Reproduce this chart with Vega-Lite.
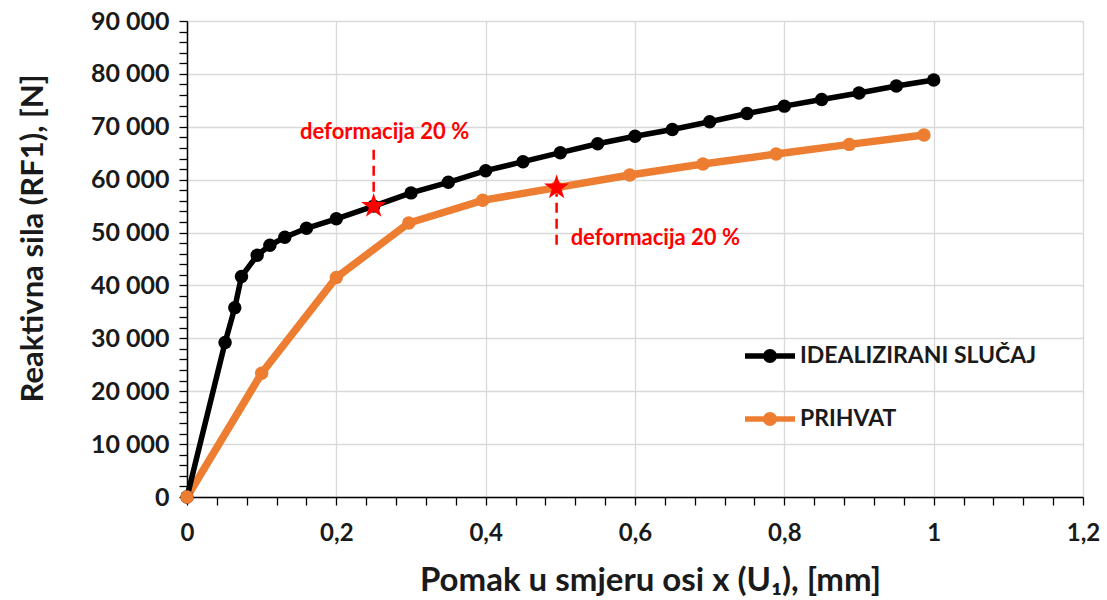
{
  "$schema": "https://vega.github.io/schema/vega-lite/v6.json",
  "width": 896,
  "height": 476,
  "autosize": {"type": "none"},
  "padding": {"left": 187, "top": 21, "right": 24, "bottom": 103},
  "background": "white",
  "config": {"view": {"stroke": null}},
  "datasets": {
    "curves": [
      {"s": "IDEALIZIRANI SLUČAJ", "x": 0, "y": 0},
      {"s": "IDEALIZIRANI SLUČAJ", "x": 0.051, "y": 29200},
      {"s": "IDEALIZIRANI SLUČAJ", "x": 0.064, "y": 35800},
      {"s": "IDEALIZIRANI SLUČAJ", "x": 0.073, "y": 41700},
      {"s": "IDEALIZIRANI SLUČAJ", "x": 0.094, "y": 45700},
      {"s": "IDEALIZIRANI SLUČAJ", "x": 0.111, "y": 47600},
      {"s": "IDEALIZIRANI SLUČAJ", "x": 0.131, "y": 49100},
      {"s": "IDEALIZIRANI SLUČAJ", "x": 0.16, "y": 50800},
      {"s": "IDEALIZIRANI SLUČAJ", "x": 0.2, "y": 52600},
      {"s": "IDEALIZIRANI SLUČAJ", "x": 0.25, "y": 55000},
      {"s": "IDEALIZIRANI SLUČAJ", "x": 0.3, "y": 57500},
      {"s": "IDEALIZIRANI SLUČAJ", "x": 0.35, "y": 59500},
      {"s": "IDEALIZIRANI SLUČAJ", "x": 0.4, "y": 61700},
      {"s": "IDEALIZIRANI SLUČAJ", "x": 0.45, "y": 63400},
      {"s": "IDEALIZIRANI SLUČAJ", "x": 0.5, "y": 65100},
      {"s": "IDEALIZIRANI SLUČAJ", "x": 0.55, "y": 66800},
      {"s": "IDEALIZIRANI SLUČAJ", "x": 0.6, "y": 68200},
      {"s": "IDEALIZIRANI SLUČAJ", "x": 0.65, "y": 69500},
      {"s": "IDEALIZIRANI SLUČAJ", "x": 0.7, "y": 70950},
      {"s": "IDEALIZIRANI SLUČAJ", "x": 0.75, "y": 72500},
      {"s": "IDEALIZIRANI SLUČAJ", "x": 0.8, "y": 73900},
      {"s": "IDEALIZIRANI SLUČAJ", "x": 0.85, "y": 75150},
      {"s": "IDEALIZIRANI SLUČAJ", "x": 0.9, "y": 76400},
      {"s": "IDEALIZIRANI SLUČAJ", "x": 0.95, "y": 77700},
      {"s": "IDEALIZIRANI SLUČAJ", "x": 1.0, "y": 78850},
      {"s": "PRIHVAT", "x": 0, "y": 0},
      {"s": "PRIHVAT", "x": 0.1, "y": 23400},
      {"s": "PRIHVAT", "x": 0.2, "y": 41500},
      {"s": "PRIHVAT", "x": 0.297, "y": 51800},
      {"s": "PRIHVAT", "x": 0.396, "y": 56100},
      {"s": "PRIHVAT", "x": 0.495, "y": 58500},
      {"s": "PRIHVAT", "x": 0.593, "y": 60870},
      {"s": "PRIHVAT", "x": 0.691, "y": 62950},
      {"s": "PRIHVAT", "x": 0.789, "y": 64840},
      {"s": "PRIHVAT", "x": 0.887, "y": 66670},
      {"s": "PRIHVAT", "x": 0.987, "y": 68430}
    ],
    "stars": [{"x": 0.25, "y": 55000}, {"x": 0.495, "y": 58500}],
    "dashes": [{"x": 0.25, "y": 57700, "y2": 66000}, {"x": 0.495, "y": 47700, "y2": 57300}],
    "notes": [
      {"x": 0.1513, "y": 69000, "label": "deformacija 20 %"},
      {"x": 0.5138, "y": 48900, "label": "deformacija 20 %"}
    ]
  },
  "encoding": {
    "x": {
      "field": "x", "type": "quantitative",
      "scale": {"domain": [0, 1.2], "nice": false, "zero": false},
      "axis": {
        "orient": "bottom",
        "title": "Pomak u smjeru osi x (U₁), [mm]",
        "values": [0,0.04,0.08,0.12,0.16,0.2,0.24,0.28,0.32,0.36,0.4,0.44,0.48,0.52,0.56,0.6,0.64,0.68,0.72,0.76,0.8,0.84,0.88,0.92,0.96,1,1.04,1.08,1.12,1.16,1.2],
        "labelExpr": "abs(datum.value*5 - round(datum.value*5)) < 0.000001 ? replace(format(datum.value, '~g'), '.', ',') : ''",
        "grid": true,
        "gridColor": {"condition": {"test": "abs(datum.value*5 - round(datum.value*5)) < 0.000001", "value": "#d9d9d9"}, "value": "transparent"},
        "gridWidth": 1.3,
        "domainColor": "#000000",
        "domainWidth": 1.5,
        "tickColor": "#000000",
        "tickWidth": 1.3,
        "tickSize": 8,
        "labelFont": "Lato",
        "labelFontWeight": "bold",
        "labelFontSize": 24,
        "labelColor": "#1a1a1a",
        "labelPadding": 16,
        "labelFlush": false,
        "labelOverlap": false,
        "titleFont": "Lato",
        "titleFontWeight": "bold",
        "titleFontSize": 33,
        "titleColor": "#1a1a1a",
        "titleX": 463,
        "titleY": 83,
        "titleBaseline": "middle",
        "titleAlign": "center"
      }
    },
    "y": {
      "field": "y", "type": "quantitative",
      "scale": {"domain": [0, 90000], "nice": false},
      "axis": {
        "orient": "left",
        "title": "Reaktivna sila (RF1), [N]",
        "values": [0,2000,4000,6000,8000,10000,12000,14000,16000,18000,20000,22000,24000,26000,28000,30000,32000,34000,36000,38000,40000,42000,44000,46000,48000,50000,52000,54000,56000,58000,60000,62000,64000,66000,68000,70000,72000,74000,76000,78000,80000,82000,84000,86000,88000,90000],
        "labelExpr": "datum.value % 10000 === 0 ? replace(format(datum.value, ','), ',', ' ') : ''",
        "grid": true,
        "gridColor": {"condition": {"test": "datum.value % 10000 === 0", "value": "#d9d9d9"}, "value": "transparent"},
        "gridWidth": 1.3,
        "domainColor": "#000000",
        "domainWidth": 1.5,
        "tickColor": "#000000",
        "tickWidth": 1.3,
        "tickSize": 8,
        "labelFont": "Lato",
        "labelFontWeight": "bold",
        "labelFontSize": 25,
        "labelColor": "#1a1a1a",
        "labelPadding": 10,
        "labelFlush": false,
        "labelOverlap": false,
        "titleFont": "Lato",
        "titleFontWeight": "bold",
        "titleFontSize": 31,
        "titleColor": "#1a1a1a",
        "titleX": -154,
        "titleY": 217,
        "titleAngle": 270,
        "titleBaseline": "middle",
        "titleAlign": "center"
      }
    }
  },
  "layer": [
    {
      "data": {"name": "curves"},
      "transform": [{"filter": "datum.s === 'PRIHVAT'"}],
      "mark": {"type": "line", "strokeWidth": 7.5, "color": "#ED7D31"}
    },
    {
      "data": {"name": "curves"},
      "transform": [{"filter": "datum.s === 'IDEALIZIRANI SLUČAJ'"}],
      "mark": {"type": "line", "strokeWidth": 5.5, "color": "#000000"}
    },
    {
      "data": {"name": "curves"},
      "mark": {"type": "point", "filled": true, "opacity": 1, "shape": "circle", "size": 180},
      "encoding": {
        "color": {
          "field": "s", "type": "nominal",
          "scale": {"domain": ["IDEALIZIRANI SLUČAJ", "PRIHVAT"], "range": ["#000000", "#ED7D31"]},
          "legend": {
            "title": null,
            "orient": "none",
            "legendX": 555,
            "legendY": 307,
            "symbolType": "M-1,0H1M-0.17,0A0.17,0.17,0,1,0,0.17,0A0.17,0.17,0,1,0,-0.17,0Z",
            "symbolSize": 2500,
            "symbolStrokeWidth": 5,
            "symbolOpacity": 1,
            "labelFont": "Lato",
            "labelFontWeight": "bold",
            "labelFontSize": 23,
            "labelColor": "#1a1a1a",
            "labelOffset": 2,
            "rowPadding": 19,
            "labelLimit": 400,
            "encode": {
              "symbols": {
                "update": {
                  "stroke": {"scale": "color", "field": "value"},
                  "fill": {"scale": "color", "field": "value"},
                  "strokeWidth": {"value": 5.5},
                  "opacity": {"value": 1}
                }
              }
            }
          }
        }
      }
    },
    {
      "data": {"name": "dashes"},
      "mark": {"type": "rule", "color": "#FF0000", "strokeWidth": 2.5, "strokeDash": [10, 6]},
      "encoding": {"y2": {"field": "y2"}}
    },
    {
      "data": {"name": "stars"},
      "mark": {
        "type": "point",
        "shape": "M0,-1L0.2245,-0.309L0.9511,-0.309L0.3633,0.118L0.5878,0.809L0,0.382L-0.5878,0.809L-0.3633,0.118L-0.9511,-0.309L-0.2245,-0.309Z",
        "filled": true, "color": "#FF0000", "opacity": 1, "size": 700
      }
    },
    {
      "data": {"name": "notes"},
      "mark": {"type": "text", "align": "left", "baseline": "middle", "color": "#FF0000", "font": "Lato", "fontWeight": "bold", "fontSize": 22},
      "encoding": {"text": {"field": "label"}}
    }
  ]
}
